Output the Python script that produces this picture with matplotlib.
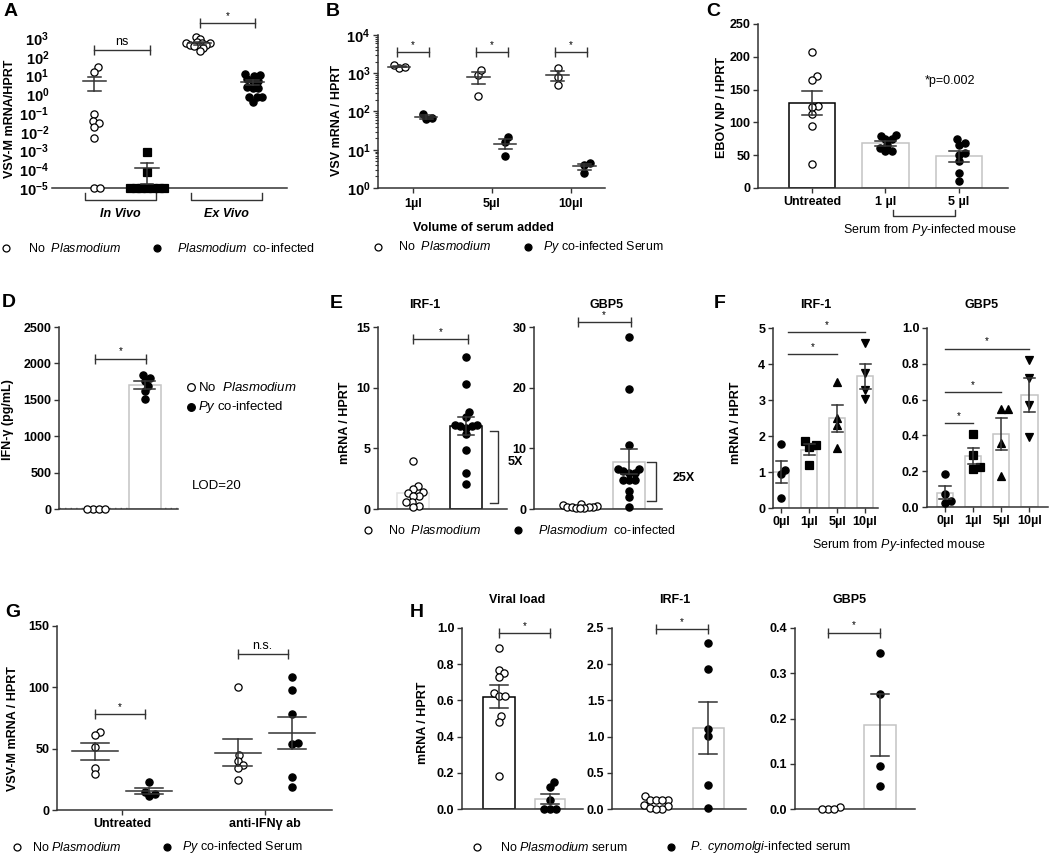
import numpy as np
import matplotlib.pyplot as plt
from matplotlib.lines import Line2D
from matplotlib.transforms import blended_transform_factory

W, H = 1050, 855
plt.rcParams['font.family'] = ['Liberation Sans', 'DejaVu Sans']
plt.rcParams['mathtext.fontset'] = 'custom'
plt.rcParams['mathtext.rm'] = 'Liberation Sans'
plt.rcParams['mathtext.it'] = 'Liberation Sans:italic'
plt.rcParams['mathtext.bf'] = 'Liberation Sans:bold'

AX = '#333333'
GREY = '#c4c4c4'
FS = 9

# ---- data ----
# A: VSV-M mRNA/HPRT, log scale
a_groups = ['In Vivo', 'Ex Vivo']
a_invivo_no = [30, 16, 0.09, 0.039, 0.028, 0.017, 0.0046, 1e-5, 1e-5]
a_invivo_py = [8.5e-4, 7e-5, 1e-5, 1e-5, 1e-5, 1e-5, 1e-5, 1e-5, 1e-5]
a_exvivo_no = [1080, 880, 590, 540, 540, 520, 440, 400, 360, 360, 290, 195]
a_exvivo_py = [12, 10.7, 9.5, 6.3, 4.8, 4.8, 2.4, 2.1, 2.1, 0.69, 0.69, 0.69, 0.41]
a_sig_ns, a_sig_star = 220, 6300

# B: VSV mRNA / HPRT vs serum volume
b_cats = ['1µl', '5µl', '10µl']
b_no = [[1400, 1600, 1450], [900, 1250, 260], [1400, 800, 500]]
b_py = [[63, 87, 68], [15.5, 21.5, 6.7], [4.0, 4.6, 2.4]]
b_sig = 3500

# C: EBOV NP / HPRT
c_cats = ['Untreated', '1 µl', '5 µl']
c_vals = [[207, 170, 164, 125, 123, 113, 95, 36],
          [81, 80, 74, 74, 65, 61, 56, 56],
          [74, 68, 65, 54, 51, 41, 23, 10]]

# D: IFN-gamma
d_no = [0, 0, 0, 0]
d_py = [1837, 1801, 1755, 1686, 1618, 1517]
d_lod = 20
d_sig = 2066

# E: IRF-1 / GBP5, no Plasmodium vs co-infected
e_irf_no = [3.97, 1.93, 1.65, 1.4, 1.3, 1.1, 1.1, 0.6, 0.6, 0.28, 0.14]
e_irf_py = [12.5, 10.3, 8.0, 7.6, 6.9, 6.8, 6.7, 6.8, 6.9, 6.2, 4.9, 3.0, 2.1]
e_gbp_no = [0.8, 0.6, 0.5, 0.4, 0.4, 0.3, 0.3, 0.2, 0.2, 0.1]
e_gbp_py = [28.4, 19.8, 10.6, 6.6, 6.6, 6.2, 6.0, 6.0, 4.7, 4.7, 4.7, 3.0, 1.9, 0.3]
e_sig = [14.0, 30.8]

# F: serum dose response
f_cats = ['0µl', '1µl', '5µl', '10µl']
f_markers = ['o', 's', '^', 'v']
f_irf = [[1.77, 1.06, 0.94, 0.28], [1.85, 1.75, 1.7, 1.2],
         [3.5, 2.49, 2.3, 1.66], [4.57, 3.74, 3.27, 3.04]]
f_gbp = [[0.186, 0.074, 0.035, 0.022], [0.408, 0.29, 0.223, 0.213],
         [0.547, 0.547, 0.36, 0.174], [0.82, 0.72, 0.57, 0.39]]
f_irf_sig = [(2, 4.27), (3, 4.89)]
f_gbp_sig = [(1, 0.467), (2, 0.644), (3, 0.885)]

# G: VSV-M with / without anti-IFNg
g_cats = ['Untreated', 'anti-IFNγ ab']
g_no = [[63.5, 61, 51.5, 34, 29], [100.4, 44.8, 40, 36.6, 34, 24.4]]
g_py = [[23, 15, 12.7, 11.4], [108.5, 98, 78.6, 55, 54, 27, 19]]
g_sig = [(78, '*'), (127, 'n.s.')]

# H: P. cynomolgi serum
h_titles = ['Viral load', 'IRF-1', 'GBP5']
h_no = [[0.89, 0.77, 0.75, 0.73, 0.642, 0.626, 0.626, 0.514, 0.483, 0.18],
        [0.174, 0.128, 0.128, 0.12, 0.12, 0.05, 0.04, 0.02, 0.0, 0.0],
        [0.0, 0.004, 0.0, 0.0]]
h_py = [[0.147, 0.121, 0.051, 0.0, 0.0, 0.0],
        [2.29, 1.94, 1.1, 1.01, 0.33, 0.02],
        [0.345, 0.255, 0.095, 0.05]]
h_sig = [0.974, 2.48, 0.39]

fig = plt.figure(figsize=(W / 100, H / 100), dpi=100)


def px_ax(x0, x1, ytop, ybot):
    return fig.add_axes([x0 / W, 1 - ybot / H, (x1 - x0) / W, (ybot - ytop) / H])


def style(ax, left=True):
    for s in ['top', 'right']:
        ax.spines[s].set_visible(False)
    ax.spines['left'].set_visible(left)
    for s in ['left', 'bottom']:
        ax.spines[s].set_color(AX)
        ax.spines[s].set_linewidth(1.1)
    ax.tick_params(direction='out', length=3.5, width=1, colors=AX,
                   labelcolor='black', labelsize=FS, pad=2)
    ax.set_facecolor('none')


def yticks(ax, ticks, fmt):
    ax.set_yticks(ticks, [fmt.format(t) for t in ticks], fontweight='bold', fontsize=FS)


def ftext(x, y, s, **kw):
    kw.setdefault('ha', 'center')
    kw.setdefault('va', 'center')
    kw.setdefault('fontsize', FS)
    fig.text(x / W, 1 - y / H, s, **kw)


def ylab(x, y, s):
    ftext(x, y, s, rotation=90, fontweight='bold')


def legend_mark(x, y, filled, ms=5):
    fig.add_artist(Line2D([x / W], [1 - y / H], transform=fig.transFigure, marker='o',
                          ls='none', ms=ms, mfc='black' if filled else 'white',
                          mec='black', mew=0.9))


def swarm(ax, xc, vals, d):
    # simple beeswarm in pixel space, d = allowed centre distance
    vals = np.asarray(vals, float)
    pts = ax.transData.transform(np.column_stack([np.full(len(vals), xc), vals]))
    px0, py = pts[0, 0], pts[:, 1]
    placed = []
    offs = np.zeros(len(vals))
    for i in np.argsort(py):
        cands = [0.0]
        for ox, oy in placed:
            dy = py[i] - oy
            if abs(dy) < d:
                dx = np.sqrt(d * d - dy * dy)
                cands += [ox + dx, ox - dx]
        cands.sort(key=abs)
        for c in cands:
            if all((c - ox) ** 2 + (py[i] - oy) ** 2 >= d * d - 1e-6 for ox, oy in placed):
                break
        placed.append((c, py[i]))
        offs[i] = c
    return ax.transData.inverted().transform(np.column_stack([px0 + offs, py]))[:, 0]


def dots(ax, xc, vals, filled, marker='o', ms=5.2, gap=0.85):
    d = ms * 100 / 72 * gap
    xs = swarm(ax, xc, vals, d)
    ax.plot(xs, vals, ls='none', marker=marker, ms=ms, mfc='black' if filled else 'white',
            mec='black', mew=0.9, zorder=4, clip_on=False)


def stats(vals):
    v = np.asarray(vals, float)
    return v.mean(), v.std(ddof=1) / np.sqrt(len(v))


def errbar(ax, xc, m, s, cap, color=AX):
    kw = dict(color=color, lw=1.1, zorder=5, clip_on=False)
    ax.plot([xc, xc], [m - s, m + s], **kw)
    ax.plot([xc - cap, xc + cap], [m + s, m + s], **kw)
    ax.plot([xc - cap, xc + cap], [m - s, m - s], **kw)


def mean_sem(ax, xc, vals, half=0.22, cap=0.12):
    m, s = stats(vals)
    ax.plot([xc - half, xc + half], [m, m], color=AX, lw=1.1, zorder=5, clip_on=False)
    errbar(ax, xc, m, s, cap)


def bar_sem(ax, xc, vals, width, edge, cap=0.14, err=True):
    m, s = stats(vals)
    ax.bar(xc, m, width, color='white', edgecolor=edge, lw=1.1, zorder=1)
    if err:
        errbar(ax, xc, m, s, cap)


def sig(ax, x0, x1, y, label, fs=7, ticks=True):
    ax.plot([x0, x1], [y, y], color=AX, lw=1, clip_on=False)
    if ticks:
        ax.plot([x0, x1], [y, y], ls='none', marker='|', ms=7, mew=1, color=AX, clip_on=False)
    ax.annotate(label, ((x0 + x1) / 2, y), xytext=(0, 1.5), textcoords='offset points',
                ha='center', va='bottom', fontsize=fs, annotation_clip=False)


# ---------------- A ----------------
ax = px_ax(52, 287, 38, 188)
style(ax, left=False)
ax.set_yscale('log')
ax.set_ylim(1e-5, 1e3)
ax.set_xlim(0.2, 4.65)
ax.set_xticks([])
ax.set_yticks([10.0 ** e for e in range(-5, 4)],
              [r'$\mathbf{10^{%d}}$' % e for e in range(-5, 4)], fontsize=FS + 1.5)
ax.tick_params(axis='y', which='both', length=0, pad=2)
ax.minorticks_off()
dots(ax, 1, a_invivo_no, False)
dots(ax, 2, a_invivo_py, True, marker='s', ms=5.5, gap=0.75)
dots(ax, 3, a_exvivo_no, False, gap=0.6)
dots(ax, 4, a_exvivo_py, True, gap=0.8)
for xc, v in zip([1, 2, 3, 4], [a_invivo_no, a_invivo_py, a_exvivo_no, a_exvivo_py]):
    mean_sem(ax, xc, v)
sig(ax, 1, 2.05, a_sig_ns, 'ns', fs=9)
sig(ax, 3, 4.05, a_sig_star, '*')
tr = blended_transform_factory(ax.transData, ax.transAxes)
for i, g in enumerate(a_groups):
    c = 1.5 + 2 * i
    ax.plot([c - 0.67, c - 0.67, c + 0.67, c + 0.67], [-0.035, -0.08, -0.08, -0.035],
            color=AX, lw=1, transform=tr, clip_on=False)
    ax.text(c, -0.175, g, transform=tr, ha='center', va='center', fontsize=FS,
            fontweight='bold', style='italic')
ylab(10, 119, 'VSV-M mRNA/HPRT')
legend_mark(6, 248, False)
ftext(28, 248, r'No  $\mathit{Plasmodium}$', ha='left')
legend_mark(157, 248, True)
ftext(177, 248, r'$\mathit{Plasmodium}$  co-infected', ha='left')
ftext(11, 12, 'A', fontsize=14, fontweight='bold')

# ---------------- B ----------------
ax = px_ax(378, 605, 35, 188)
style(ax)
ax.set_yscale('log')
ax.set_ylim(1, 1e4)
ax.set_xlim(-0.44, 2.43)
ax.set_yticks([10.0 ** e for e in range(0, 5)],
              [r'$\mathbf{10^{%d}}$' % e for e in range(0, 5)], fontsize=FS + 1.5)
ax.tick_params(axis='y', which='minor', length=2, width=0.8, colors=AX)
ax.set_xticks(range(3), b_cats, fontweight='bold', fontsize=FS)
ax.tick_params(axis='x', pad=4)
for i in range(3):
    dots(ax, i - 0.17, b_no[i], False)
    dots(ax, i + 0.17, b_py[i], True)
    mean_sem(ax, i - 0.17, b_no[i], half=0.14, cap=0.08)
    mean_sem(ax, i + 0.17, b_py[i], half=0.14, cap=0.08)
    sig(ax, i - 0.2, i + 0.2, b_sig, '*')
ylab(337, 120, 'VSV mRNA / HPRT')
ftext(483, 228, 'Volume of serum added', fontweight='bold')
legend_mark(378, 247, False)
ftext(398, 247, r'No  $\mathit{Plasmodium}$', ha='left')
legend_mark(528, 247, True)
ftext(543, 247, r'$\mathit{Py}$ co-infected Serum', ha='left')
ftext(333, 12, 'B', fontsize=14, fontweight='bold')

# ---------------- C ----------------
ax = px_ax(758, 1008, 24, 188)
style(ax)
ax.set_ylim(0, 250)
ax.set_xlim(-0.735, 2.67)
yticks(ax, [0, 50, 100, 150, 200, 250], '{:d}')
ax.set_xticks(range(3), c_cats, fontweight='bold', fontsize=FS)
for i in range(3):
    bar_sem(ax, i, c_vals[i], 0.63, 'black' if i == 0 else GREY)
    dots(ax, i, c_vals[i], i > 0)
tr = blended_transform_factory(ax.transData, ax.transAxes)
ax.plot([1.1, 1.1, 1.95, 1.95], [-0.135, -0.17, -0.17, -0.135], color=AX, lw=1,
        transform=tr, clip_on=False)
ftext(950, 81, '*p=0.002')
ftext(930, 230, r'Serum from $\mathit{Py}$-infected mouse')
ylab(722, 107, 'EBOV NP / HPRT')
ftext(713, 12, 'C', fontsize=14, fontweight='bold')

# ---------------- D ----------------
ax = px_ax(59, 178, 327, 509)
style(ax)
ax.set_ylim(0, 2500)
ax.set_xlim(-0.65, 1.64)
ax.set_xticks([])
yticks(ax, [0, 500, 1000, 1500, 2000, 2500], '{:d}')
ax.axhline(d_lod, color='#888888', ls=(0, (1, 3)), lw=1, zorder=0)
bar_sem(ax, 1, d_py, 0.62, GREY, cap=0.2)
dots(ax, 0, d_no, False)
dots(ax, 1, d_py, True)
sig(ax, 0.05, 1.03, d_sig, '*')
ylab(8, 420, 'IFN-γ (pg/mL)')
legend_mark(191, 387, False, ms=5.5)
ftext(198, 387, r'No  $\mathit{Plasmodium}$', ha='left', fontsize=9.5)
legend_mark(191, 407, True, ms=5.5)
ftext(198, 407, r'$\mathit{Py}$ co-infected', ha='left', fontsize=9.5)
ftext(192, 486, 'LOD=20', ha='left', fontsize=9.5)
ftext(9, 302, 'D', fontsize=14, fontweight='bold')

# ---------------- E ----------------
ax = px_ax(378, 507, 327, 509)
style(ax)
ax.set_ylim(0, 15)
ax.set_xlim(-0.66, 1.77)
ax.set_xticks([])
yticks(ax, [0, 5, 10, 15], '{:d}')
bar_sem(ax, 0, e_irf_no, 0.62, '#e2e2e2', err=False)
bar_sem(ax, 1, e_irf_py, 0.6, 'black', cap=0.15)
dots(ax, 0, e_irf_no, False, gap=0.8)
dots(ax, 1, e_irf_py, True, gap=0.8)
sig(ax, 0, 1.04, e_sig[0], '*')
m_hi = stats(e_irf_py)[0]
ax.plot([1.45, 1.6, 1.6, 1.45], [m_hi - 0.4, m_hi - 0.4, 0.5, 0.5], color=AX, lw=1, clip_on=False)
ftext(508, 462, '5X', ha='left', fontweight='bold')
ftext(425, 305, 'IRF-1', fontweight='bold')

ax = px_ax(534, 662, 327, 509)
style(ax)
ax.set_ylim(0, 30)
ax.set_xlim(-0.94, 1.67)
ax.set_xticks([])
yticks(ax, [0, 10, 20, 30], '{:d}')
bar_sem(ax, 0, e_gbp_no, 0.62, '#e2e2e2', err=False)
bar_sem(ax, 1, e_gbp_py, 0.65, GREY, cap=0.16)
dots(ax, 0, e_gbp_no, False, gap=0.6)
dots(ax, 1, e_gbp_py, True, gap=0.8)
sig(ax, -0.05, 1.03, e_sig[1], '*')
m_hi = stats(e_gbp_py)[0]
ax.plot([1.37, 1.55, 1.55, 1.37], [m_hi, m_hi, 1.3, 1.3], color=AX, lw=1, clip_on=False)
ftext(673, 478, '25X', ha='left', fontweight='bold')
ftext(607, 305, 'GBP5', fontweight='bold')
ylab(345, 423, 'mRNA / HPRT')
legend_mark(368, 530, False)
ftext(388, 530, r'No  $\mathit{Plasmodium}$', ha='left')
legend_mark(518, 530, True)
ftext(538, 530, r'$\mathit{Plasmodium}$  co-infected', ha='left')
ftext(336, 303, 'E', fontsize=14, fontweight='bold')

# ---------------- F ----------------
for k, (vals, sigs, lims, ticks, fmt, box, title) in enumerate([
        (f_irf, f_irf_sig, (0, 5), [0, 1, 2, 3, 4, 5], '{:d}', (773, 878, 328, 508, -0.29, 3.46), 'IRF-1'),
        (f_gbp, f_gbp_sig, (0, 1), [0, 0.2, 0.4, 0.6, 0.8, 1.0], '{:.1f}', (927, 1048, 328, 507, -0.64, 3.66), 'GBP5')]):
    ax = px_ax(*box[:4])
    style(ax)
    ax.set_ylim(*lims)
    ax.set_xlim(box[4], box[5])
    yticks(ax, ticks, fmt)
    ax.set_xticks(range(4), f_cats, fontweight='bold', fontsize=FS)
    for i in range(4):
        bar_sem(ax, i, vals[i], 0.58, GREY, cap=0.2)
        dots(ax, i, vals[i], True, marker=f_markers[i], ms=5.8 if i else 5.2)
    x_start = 0.25 if k == 0 else 0.0
    for j, y in sigs:
        sig(ax, x_start, j, y, '*', ticks=False)
    ftext((box[0] + box[1]) / 2 - 10 + 4 * k, 305, title, fontweight='bold')
ylab(736, 423, 'mRNA / HPRT')
ftext(899, 545, r'Serum from $\mathit{Py}$-infected mouse')
ftext(720, 303, 'F', fontsize=14, fontweight='bold')

# ---------------- G ----------------
ax = px_ax(57, 332, 626, 810)
style(ax)
ax.set_ylim(0, 150)
ax.set_xlim(-0.455, 1.47)
yticks(ax, [0, 50, 100, 150], '{:d}')
ax.set_xticks(range(2), g_cats, fontweight='bold', fontsize=FS)
for i in range(2):
    dots(ax, i - 0.19, g_no[i], False)
    dots(ax, i + 0.19, g_py[i], True)
    mean_sem(ax, i - 0.19, g_no[i], half=0.16, cap=0.1)
    mean_sem(ax, i + 0.19, g_py[i], half=0.16, cap=0.1)
    sig(ax, i - 0.19, i + 0.16, g_sig[i][0], g_sig[i][1], fs=7 if i == 0 else 9)
ylab(13, 729, 'VSV-M mRNA / HPRT')
legend_mark(17, 847, False)
ftext(32, 847, r'No $\mathit{Plasmodium}$', ha='left')
legend_mark(167, 847, True)
ftext(182, 847, r'$\mathit{Py}$ co-infected Serum', ha='left')
ftext(13, 612, 'G', fontsize=14, fontweight='bold')

# ---------------- H ----------------
h_boxes = [(462, 583, -0.725, 1.65), (612, 746, -0.85, 1.73), (795, 915, -0.63, 1.67)]
h_lims = [1.0, 2.5, 0.4]
h_ticks = [[0, 0.2, 0.4, 0.6, 0.8, 1.0], [0, 0.5, 1.0, 1.5, 2.0, 2.5], [0, 0.1, 0.2, 0.3, 0.4]]
h_title_x = [517, 675, 850]
for i in range(3):
    x0, x1, xl, xr = h_boxes[i]
    ax = px_ax(x0, x1, 628, 809)
    style(ax)
    ax.set_ylim(0, h_lims[i])
    ax.set_xlim(xl, xr)
    ax.set_xticks([])
    yticks(ax, h_ticks[i], '{:.1f}')
    if i == 0:
        bar_sem(ax, 0, h_no[i], 0.63, 'black', cap=0.18)
    bar_sem(ax, 1, h_py[i], 0.6, GREY, cap=0.18)
    dots(ax, 0, h_no[i], False)
    dots(ax, 1, h_py[i], True)
    sig(ax, 0, 1, h_sig[i], '*')
    ftext(h_title_x[i], 600, h_titles[i], fontweight='bold')
ylab(423, 723, 'mRNA / HPRT')
legend_mark(477, 847, False)
ftext(500, 847, r'No $\mathit{Plasmodium}$ serum', ha='left')
legend_mark(671, 847, True)
ftext(690, 847, r'$\mathit{P.\ cynomolgi}$-infected serum', ha='left')
ftext(417, 612, 'H', fontsize=14, fontweight='bold')

fig.savefig('out.png', dpi=100)
